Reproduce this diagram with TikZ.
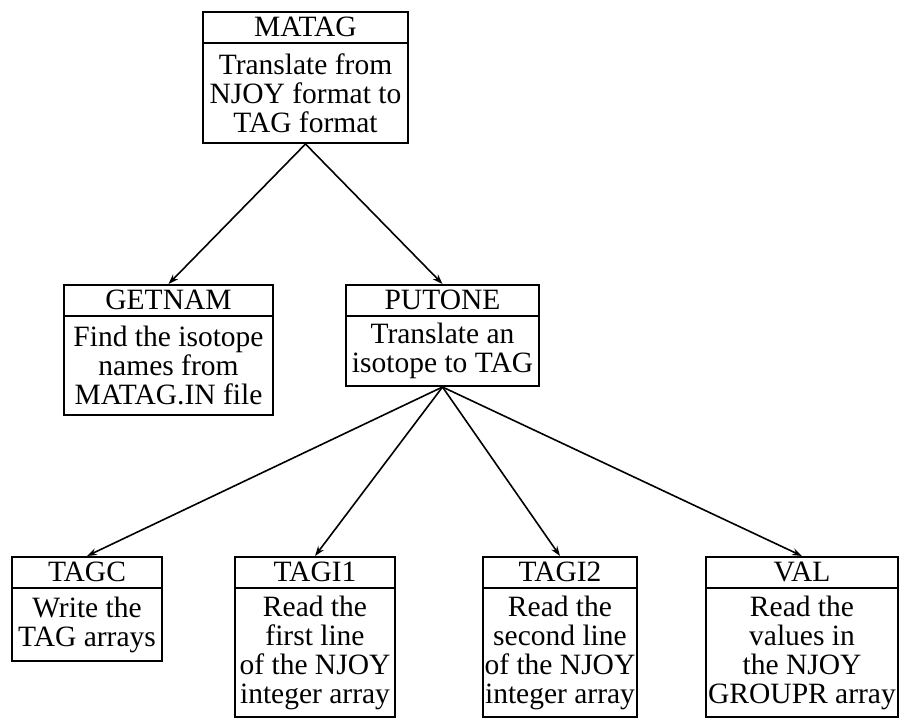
\documentclass[tikz,border=0pt]{standalone}
\usepackage{fontspec}
\setmainfont{Liberation Serif}
\usetikzlibrary{calc,arrows.meta}
\newcommand\tbox[8]{%
  \node[draw, line width=2pt, minimum width=#4pt, minimum height=#5pt, anchor=north west, inner sep=0pt] (#1) at (#2,#3) {};
  \node[anchor=north, minimum height=#6pt, minimum width=#4pt, inner sep=0pt] (#1-t) at (#1.north) {#7};
  \draw[line width=2pt] (#1-t.south west) -- (#1-t.south east);
  \node[anchor=north, minimum height=#5pt-#6pt, minimum width=#4pt, inner sep=0pt, align=center] (#1-b) at (#1-t.south) {#8};
}
\begin{document}
\begin{tikzpicture}[x=1pt,y=-1pt,
  arr/.style={line width=1.6pt, -{Stealth[length=10pt,width=7pt]}},
  every node/.style={font=\fontsize{29.5}{29}\selectfont}]
\useasboundingbox[fill=white] (0,0) rectangle (899,719);
\tbox{matag}{202}{11}{205}{131}{32}{MATAG}{Translate from\\NJOY format to\\TAG format}
\tbox{getnam}{63}{284}{209}{130}{32}{GETNAM}{Find the isotope\\names from\\MATAG.IN file}
\tbox{putone}{345}{284}{193}{101}{32}{PUTONE}{Translate an\\isotope to TAG}
\tbox{tagc}{11}{556}{150}{104}{32}{TAGC}{Write the\\TAG arrays}
\tbox{tagi1}{234}{556}{160}{160}{32}{TAGI1}{Read the\\first line\\of the NJOY\\integer array}
\tbox{tagi2}{482}{556}{154}{160}{32}{TAGI2}{Read the\\second line\\of the NJOY\\integer array}
\tbox{val}{705}{556}{192}{160}{32}{VAL}{Read the\\values in\\the NJOY\\GROUPR array}
\draw[arr] (matag.south) -- (getnam.north);
\draw[arr] (matag.south) -- (putone.north);
\draw[arr] (putone.south) -- (tagc.north);
\draw[arr] (putone.south) -- (tagi1.north);
\draw[arr] (putone.south) -- (tagi2.north);
\draw[arr] (putone.south) -- (val.north);
\end{tikzpicture}
\end{document}
